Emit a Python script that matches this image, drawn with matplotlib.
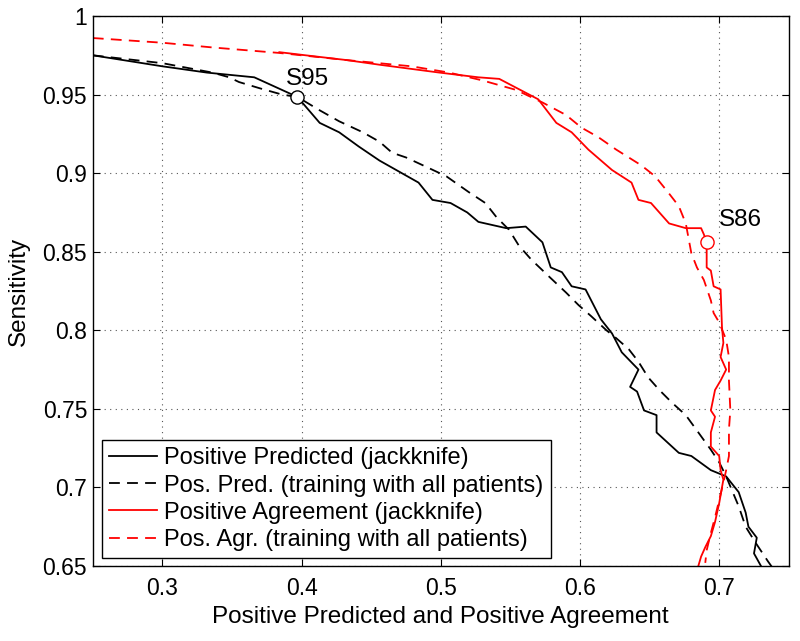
import matplotlib
matplotlib.use("Agg")
import matplotlib.pyplot as plt

plt.rcParams['font.family'] = ['Liberation Sans', 'DejaVu Sans']

# Positive Predicted (jackknife)
pp_jk_x = [0.250, 0.300, 0.332, 0.366, 0.397, 0.413, 0.427, 0.441, 0.456, 0.470,
           0.484, 0.494, 0.507, 0.519, 0.527, 0.547, 0.561, 0.573, 0.579, 0.587,
           0.594, 0.604, 0.615, 0.623, 0.630, 0.642, 0.636, 0.641, 0.646, 0.655,
           0.655, 0.671, 0.680, 0.694, 0.705, 0.714, 0.719, 0.721, 0.727, 0.725, 0.730]
pp_jk_y = [0.975, 0.968, 0.964, 0.961, 0.9485, 0.932, 0.926, 0.917, 0.908, 0.901,
           0.894, 0.883, 0.881, 0.875, 0.869, 0.865, 0.866, 0.856, 0.840, 0.837,
           0.828, 0.826, 0.807, 0.798, 0.786, 0.775, 0.764, 0.761, 0.749, 0.746,
           0.735, 0.722, 0.720, 0.711, 0.707, 0.697, 0.684, 0.675, 0.668, 0.658, 0.650]

# Pos. Pred. (training with all patients)
pp_all_x = [0.250, 0.300, 0.336, 0.348, 0.355, 0.370, 0.386, 0.397, 0.413, 0.427,
            0.444, 0.456, 0.465, 0.475, 0.492, 0.504, 0.520, 0.532, 0.540, 0.549,
            0.556, 0.565, 0.578, 0.590, 0.599, 0.608, 0.619, 0.626, 0.635, 0.642,
            0.649, 0.657, 0.666, 0.676, 0.685, 0.694, 0.700, 0.705, 0.714, 0.719,
            0.726, 0.735, 0.739]
pp_all_y = [0.975, 0.970, 0.964, 0.961, 0.958, 0.954, 0.950, 0.9485, 0.940, 0.933,
            0.926, 0.920, 0.913, 0.910, 0.903, 0.898, 0.888, 0.881, 0.872, 0.864,
            0.854, 0.845, 0.834, 0.824, 0.816, 0.809, 0.800, 0.795, 0.788, 0.780,
            0.770, 0.762, 0.754, 0.746, 0.735, 0.724, 0.716, 0.707, 0.688, 0.675,
            0.665, 0.653, 0.648]

# Positive Agreement (jackknife)
pa_jk_x = [0.384, 0.403, 0.432, 0.456, 0.499, 0.527, 0.542, 0.570, 0.583, 0.594,
           0.606, 0.623, 0.637, 0.642, 0.651, 0.664, 0.676, 0.687, 0.689, 0.691,
           0.691, 0.694, 0.696, 0.701, 0.702, 0.703, 0.701, 0.705, 0.701, 0.697,
           0.694, 0.697, 0.694, 0.694, 0.700, 0.701, 0.703, 0.700, 0.697, 0.694,
           0.690, 0.687, 0.685]
pa_jk_y = [0.977, 0.975, 0.972, 0.969, 0.964, 0.961, 0.960, 0.947, 0.932, 0.926,
           0.915, 0.902, 0.894, 0.883, 0.881, 0.868, 0.865, 0.865, 0.861, 0.856,
           0.840, 0.838, 0.828, 0.826, 0.802, 0.792, 0.783, 0.775, 0.768, 0.762,
           0.749, 0.745, 0.735, 0.726, 0.720, 0.711, 0.705, 0.690, 0.678, 0.669,
           0.662, 0.656, 0.650]

# Pos. Agr. (training with all patients)
pa_all_x = [0.250, 0.300, 0.336, 0.384, 0.432, 0.479, 0.506, 0.530, 0.554, 0.573,
            0.590, 0.601, 0.613, 0.626, 0.635, 0.644, 0.654, 0.664, 0.671, 0.676,
            0.680, 0.684, 0.689, 0.694, 0.696, 0.700, 0.705, 0.707, 0.707, 0.708,
            0.707, 0.707, 0.705, 0.703, 0.700, 0.697, 0.694, 0.691, 0.690]
pa_all_y = [0.986, 0.983, 0.980, 0.9765, 0.972, 0.968, 0.964, 0.959, 0.953, 0.945,
            0.937, 0.929, 0.923, 0.915, 0.910, 0.905, 0.898, 0.887, 0.879, 0.868,
            0.849, 0.840, 0.832, 0.819, 0.811, 0.805, 0.794, 0.783, 0.768, 0.749,
            0.737, 0.720, 0.711, 0.703, 0.692, 0.681, 0.671, 0.660, 0.652]

s95 = (0.397, 0.9485)
s86 = (0.691, 0.856)

fig = plt.figure(figsize=(8, 6.41), dpi=100)
ax = fig.add_axes([0.116, 0.117, 0.870, 0.858])

lw = 1.3
ax.plot(pp_jk_x, pp_jk_y, color='black', lw=lw, label='Positive Predicted (jackknife)')
ax.plot(pp_all_x, pp_all_y, color='black', lw=lw, ls=(0, (6, 4)),
        label='Pos. Pred. (training with all patients)')
ax.plot(pa_jk_x, pa_jk_y, color='red', lw=lw, label='Positive Agreement (jackknife)')
ax.plot(pa_all_x, pa_all_y, color='red', lw=lw, ls=(0, (6, 4)),
        label='Pos. Agr. (training with all patients)')

ax.plot(*s95, 'o', ms=9.5, mfc='white', mec='black', mew=1.0)
ax.plot(*s86, 'o', ms=9.5, mfc='white', mec='red', mew=1.0)
ax.text(0.389, 0.953, 'S95', fontsize=17.5, ha='left', va='bottom')
ax.text(0.700, 0.863, 'S86', fontsize=17.5, ha='left', va='bottom')

ax.set_xlim(0.25, 0.75)
ax.set_ylim(0.65, 1.0)
ax.set_xticks([0.3, 0.4, 0.5, 0.6, 0.7])
ax.set_yticks([0.65, 0.7, 0.75, 0.8, 0.85, 0.9, 0.95, 1.0])
ax.set_yticklabels(['0.65', '0.7', '0.75', '0.8', '0.85', '0.9', '0.95', '1'])
ax.tick_params(direction='in', top=True, right=True, length=5, labelsize=16.5)
ax.tick_params(axis='x', pad=8)
ax.tick_params(axis='y', pad=4)
ax.grid(True, color='#555555', ls=(0, (1, 4)), lw=0.8)
for sp in ax.spines.values():
    sp.set_linewidth(1.0)

ax.set_xlabel('Positive Predicted and Positive Agreement', fontsize=17.5, labelpad=4)
ax.set_ylabel('Sensitivity', fontsize=17.5, labelpad=9)

leg = ax.legend(loc='lower left', bbox_to_anchor=(0.013, 0.0145), borderaxespad=0,
                fontsize=17, fancybox=False, edgecolor='black', framealpha=1,
                handlelength=2.05, handletextpad=0.3, labelspacing=0.22,
                borderpad=0.3)
leg.get_frame().set_linewidth(1.0)

fig.savefig('out.png', dpi=100)
